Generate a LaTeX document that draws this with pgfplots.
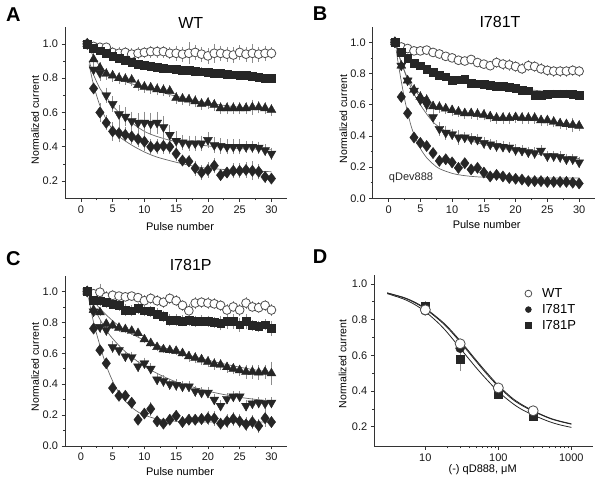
\documentclass[border=0pt]{standalone}
\usepackage{fontspec}
\setmainfont{Liberation Sans}
\usepackage{pgfplots}
\usepackage{pgfplotstable}
\pgfplotsset{compat=1.18}

\pgfplotstableread{
n c ce s se u ue d de k ke
1 1.000 0.01 1.000 0.01 1.000 0.01 1.000 0.01 1.000 0.01
2 0.985 0.01 0.975 0.01 0.910 0.02 0.850 0.02 0.740 0.02
3 0.980 0.01 0.960 0.01 0.860 0.02 0.830 0.03 0.600 0.04
4 0.980 0.01 0.945 0.01 0.825 0.02 0.700 0.03 0.540 0.03
5 0.950 0.02 0.930 0.01 0.815 0.02 0.650 0.03 0.490 0.04
6 0.945 0.02 0.915 0.01 0.800 0.02 0.590 0.04 0.480 0.04
7 0.950 0.02 0.905 0.01 0.795 0.02 0.575 0.04 0.470 0.03
8 0.940 0.02 0.895 0.01 0.790 0.02 0.550 0.04 0.460 0.03
9 0.945 0.02 0.880 0.01 0.760 0.02 0.540 0.04 0.445 0.03
10 0.950 0.02 0.875 0.01 0.750 0.02 0.540 0.05 0.430 0.04
11 0.955 0.02 0.870 0.01 0.745 0.02 0.535 0.05 0.400 0.03
12 0.955 0.02 0.865 0.01 0.735 0.02 0.540 0.05 0.400 0.03
13 0.955 0.02 0.860 0.01 0.730 0.02 0.515 0.05 0.405 0.03
14 0.945 0.02 0.855 0.01 0.725 0.02 0.470 0.04 0.400 0.03
15 0.945 0.03 0.850 0.01 0.685 0.02 0.435 0.04 0.360 0.03
16 0.940 0.03 0.848 0.01 0.680 0.02 0.425 0.03 0.320 0.02
17 0.945 0.05 0.845 0.01 0.675 0.02 0.420 0.03 0.315 0.02
18 0.950 0.03 0.840 0.01 0.665 0.02 0.420 0.03 0.275 0.03
19 0.940 0.03 0.838 0.01 0.650 0.02 0.420 0.03 0.250 0.03
20 0.930 0.03 0.835 0.01 0.655 0.02 0.440 0.03 0.265 0.03
21 0.945 0.04 0.830 0.01 0.645 0.02 0.410 0.03 0.290 0.03
22 0.945 0.03 0.828 0.01 0.625 0.02 0.405 0.03 0.235 0.02
23 0.940 0.03 0.825 0.01 0.625 0.02 0.400 0.03 0.250 0.02
24 0.935 0.03 0.820 0.01 0.625 0.02 0.400 0.03 0.260 0.03
25 0.950 0.03 0.818 0.01 0.625 0.02 0.400 0.03 0.260 0.03
26 0.940 0.03 0.815 0.01 0.625 0.02 0.400 0.02 0.265 0.03
27 0.945 0.04 0.810 0.01 0.630 0.03 0.400 0.02 0.260 0.04
28 0.940 0.03 0.805 0.01 0.630 0.02 0.395 0.02 0.255 0.03
29 0.945 0.03 0.800 0.01 0.625 0.02 0.380 0.02 0.225 0.02
30 0.945 0.02 0.800 0.01 0.615 0.02 0.360 0.02 0.215 0.01
}\tabA

\pgfplotstableread{
n c ce s se u ue d de k ke
1 1.000 0.01 1.000 0.01 1.000 0.01 1.000 0.01 1.000 0.01
2 0.970 0.01 0.935 0.01 0.850 0.01 0.850 0.01 0.650 0.01
3 0.960 0.01 0.900 0.01 0.755 0.02 0.755 0.02 0.545 0.01
4 0.945 0.01 0.865 0.01 0.695 0.02 0.690 0.02 0.390 0.01
5 0.945 0.01 0.850 0.01 0.650 0.02 0.630 0.02 0.355 0.01
6 0.950 0.01 0.825 0.01 0.630 0.02 0.600 0.03 0.335 0.01
7 0.935 0.01 0.810 0.01 0.590 0.02 0.520 0.03 0.290 0.01
8 0.925 0.01 0.790 0.01 0.585 0.02 0.445 0.03 0.240 0.01
9 0.910 0.01 0.780 0.01 0.575 0.02 0.420 0.03 0.250 0.01
10 0.900 0.01 0.755 0.01 0.565 0.02 0.410 0.02 0.230 0.01
11 0.885 0.01 0.760 0.01 0.555 0.02 0.390 0.03 0.195 0.01
12 0.880 0.01 0.765 0.01 0.545 0.02 0.390 0.02 0.225 0.01
13 0.890 0.01 0.740 0.01 0.545 0.02 0.380 0.02 0.185 0.01
14 0.870 0.01 0.735 0.01 0.540 0.02 0.375 0.02 0.195 0.01
15 0.860 0.01 0.730 0.01 0.535 0.02 0.355 0.02 0.165 0.01
16 0.850 0.01 0.725 0.01 0.525 0.02 0.345 0.02 0.140 0.01
17 0.870 0.02 0.720 0.01 0.515 0.02 0.335 0.02 0.150 0.01
18 0.860 0.02 0.720 0.01 0.515 0.02 0.330 0.02 0.140 0.01
19 0.855 0.02 0.710 0.01 0.515 0.02 0.325 0.02 0.130 0.01
20 0.845 0.02 0.705 0.01 0.520 0.02 0.310 0.02 0.125 0.01
21 0.830 0.02 0.695 0.01 0.515 0.02 0.305 0.02 0.120 0.01
22 0.850 0.02 0.690 0.01 0.515 0.02 0.295 0.02 0.110 0.01
23 0.845 0.02 0.660 0.01 0.515 0.02 0.290 0.02 0.110 0.01
24 0.830 0.02 0.660 0.01 0.500 0.02 0.305 0.02 0.110 0.01
25 0.820 0.02 0.665 0.01 0.500 0.02 0.270 0.02 0.105 0.01
26 0.815 0.02 0.670 0.01 0.490 0.02 0.270 0.02 0.105 0.01
27 0.815 0.02 0.670 0.01 0.480 0.02 0.265 0.02 0.105 0.01
28 0.815 0.02 0.670 0.01 0.475 0.02 0.250 0.02 0.105 0.01
29 0.820 0.02 0.665 0.01 0.470 0.03 0.250 0.02 0.100 0.01
30 0.815 0.02 0.660 0.01 0.465 0.02 0.230 0.02 0.095 0.01
}\tabB

\pgfplotstableread{
n c ce s se u ue d de k ke
1 1.000 0.01 1.000 0.01 1.000 0.01 1.000 0.01 1.000 0.01
2 0.985 0.01 0.945 0.02 0.880 0.01 0.870 0.02 0.760 0.01
3 0.995 0.04 0.940 0.02 0.865 0.01 0.770 0.02 0.620 0.01
4 0.965 0.02 0.930 0.02 0.790 0.01 0.750 0.02 0.535 0.02
5 0.975 0.02 0.920 0.02 0.780 0.01 0.640 0.02 0.375 0.01
6 0.970 0.01 0.910 0.02 0.765 0.01 0.620 0.02 0.325 0.01
7 0.965 0.01 0.880 0.02 0.755 0.01 0.580 0.02 0.325 0.01
8 0.970 0.01 0.875 0.02 0.745 0.01 0.575 0.02 0.280 0.01
9 0.960 0.01 0.890 0.02 0.730 0.01 0.515 0.02 0.170 0.01
10 0.940 0.02 0.875 0.02 0.690 0.01 0.535 0.02 0.210 0.02
11 0.955 0.02 0.870 0.02 0.665 0.01 0.500 0.02 0.240 0.03
12 0.940 0.02 0.855 0.02 0.640 0.01 0.430 0.02 0.160 0.02
13 0.930 0.02 0.840 0.02 0.625 0.01 0.420 0.02 0.145 0.02
14 0.955 0.02 0.815 0.02 0.620 0.01 0.400 0.02 0.170 0.02
15 0.940 0.02 0.815 0.02 0.615 0.01 0.395 0.02 0.195 0.02
16 0.910 0.02 0.810 0.02 0.600 0.01 0.385 0.02 0.155 0.02
17 0.875 0.03 0.815 0.02 0.580 0.02 0.385 0.02 0.170 0.02
18 0.925 0.02 0.805 0.02 0.570 0.02 0.355 0.02 0.170 0.02
19 0.930 0.02 0.810 0.02 0.560 0.02 0.345 0.02 0.175 0.02
20 0.925 0.02 0.805 0.02 0.545 0.02 0.345 0.02 0.180 0.03
21 0.920 0.02 0.800 0.02 0.530 0.02 0.300 0.02 0.178 0.03
22 0.910 0.02 0.795 0.03 0.525 0.02 0.260 0.02 0.145 0.02
23 0.880 0.02 0.805 0.03 0.510 0.02 0.305 0.02 0.160 0.03
24 0.900 0.02 0.805 0.03 0.500 0.02 0.320 0.02 0.175 0.03
25 0.880 0.02 0.785 0.03 0.490 0.02 0.320 0.02 0.160 0.03
26 0.925 0.02 0.805 0.03 0.480 0.03 0.260 0.02 0.140 0.03
27 0.900 0.02 0.780 0.02 0.480 0.03 0.275 0.02 0.155 0.03
28 0.895 0.02 0.775 0.02 0.475 0.03 0.280 0.02 0.130 0.03
29 0.910 0.02 0.785 0.02 0.480 0.03 0.275 0.02 0.180 0.04
30 0.880 0.02 0.760 0.03 0.470 0.06 0.280 0.02 0.155 0.02
}\tabC

\pgfplotstableread{
x w we t te p pe
10 0.855 0.01 0.850 0.01 0.878 0.01
30 0.665 0.01 0.640 0.01 0.576 0.05
100 0.418 0.01 0.410 0.01 0.385 0.01
300 0.290 0.01 0.285 0.01 0.258 0.01
}\tabD

\pgfplotsset{
  pan/.style={
    scale only axis,
    axis lines*=left,
    axis line style={black!80, line width=0.8pt},
    tick align=outside,
    major tick length=3.5pt,
    minor tick length=2pt,
    every tick/.style={black!80, line width=0.7pt},
    tick label style={font=\fontsize{11}{12}\selectfont, text=black!90},
    /pgf/number format/assume math mode=true,
    clip=false,
  },
  pulse/.style={pan, xmin=-2.5, xmax=32.5, xtick={0,5,...,30},
    minor x tick num=1, minor y tick num=1,
    yticklabel style={/pgf/number format/.cd, fixed, fixed zerofill, precision=1}},
  ce/.style={mark=*, mark size=4.4pt, mark options={fill=white, draw=black!70, line width=0.8pt}},
  sq/.style={mark=square*, mark size=3.9pt, mark options={fill=black!85, draw=black!85}},
  up/.style={mark=triangle*, mark size=5.2pt, mark options={fill=black!85, draw=black!85}},
  dn/.style={mark=triangle*, mark size=5.2pt, mark options={fill=black!85, draw=black!85, rotate=180}},
  dm/.style={mark=diamond*, mark size=5.6pt, mark options={fill=black!85, draw=black!85}},
  eb/.style={only marks, error bars/y dir=both, error bars/y explicit,
    error bars/error bar style={black!45, line width=0.6pt},
    error bars/error mark options={black!45, mark size=2.5pt, line width=0.6pt}},
  fitl/.style={black!60, line width=0.7pt, smooth, no marks},
  lgs/.style={legend image code/.code={\path (0pt,0pt) (20pt,0pt); \draw[##1, mark size=3pt] plot coordinates {(8.5pt,0pt)};}},
  lgc/.style={legend image code/.code={\path (0pt,0pt) (20pt,0pt); \draw[##1, mark size=3.4pt] plot coordinates {(8.5pt,0pt)};}},
}

\begin{document}
\begin{tikzpicture}
\path[use as bounding box] (0pt,0pt) rectangle (600pt,484pt);

% ---------- A ----------
\begin{axis}[pulse, at={(65pt,285.7pt)}, anchor=south west, width=222.3pt, height=171.6pt,
  ymin=0.1, ymax=1.1, ytick={0.2,0.4,...,1.0}]
\addplot[fitl] coordinates {(1,1.0)(2,0.975)(3,0.955)(5,0.925)(7,0.9)(10,0.875)(15,0.85)(20,0.835)(25,0.818)(30,0.80)};
\addplot[fitl] coordinates {(1,1.0)(2,0.925)(3,0.87)(4,0.835)(5,0.81)(7,0.78)(10,0.745)(15,0.695)(20,0.655)(25,0.63)(30,0.61)};
\addplot[fitl] coordinates {(1.3,0.9)(2,0.82)(3,0.74)(4,0.69)(5,0.64)(6,0.6)(8,0.54)(10,0.49)(12,0.46)(15,0.43)(20,0.405)(25,0.39)(30,0.385)};
\addplot[fitl] coordinates {(1.3,0.88)(2,0.76)(3,0.64)(4,0.56)(5,0.5)(6,0.46)(8,0.41)(10,0.37)(12,0.34)(15,0.31)(18,0.285)(20,0.275)(25,0.262)(30,0.255)};
\addplot[ce, eb] table[x=n, y=c, y error=ce] {\tabA};
\addplot[sq, eb] table[x=n, y=s, y error=se] {\tabA};
\addplot[up, eb] table[x=n, y=u, y error=ue] {\tabA};
\addplot[dn, eb] table[x=n, y=d, y error=de] {\tabA};
\addplot[dm, eb] table[x=n, y=k, y error=ke] {\tabA};
\end{axis}

% ---------- B ----------
\begin{axis}[pulse, at={(372.7pt,285.7pt)}, anchor=south west, width=222.3pt, height=171.6pt,
  ymin=0, ymax=1.1, ytick={0,0.2,...,1.0}]
\addplot[fitl] coordinates {(1.2,0.99)(2,0.95)(3,0.91)(5,0.855)(7,0.815)(10,0.775)(15,0.735)(20,0.705)(25,0.685)(30,0.67)};
\addplot[fitl] coordinates {(1.2,0.98)(2,0.87)(3,0.77)(4,0.7)(5,0.65)(6,0.615)(7,0.59)(8,0.575)(10,0.555)(15,0.53)(20,0.51)(25,0.49)(30,0.47)};
\addplot[fitl] coordinates {(1.2,0.97)(2,0.87)(3,0.76)(4,0.67)(5,0.6)(6,0.54)(7,0.49)(8,0.455)(10,0.41)(12,0.38)(15,0.345)(20,0.305)(25,0.275)(30,0.255)};
\addplot[fitl] coordinates {(1.2,0.95)(1.5,0.87)(2,0.75)(2.5,0.64)(3,0.55)(3.5,0.47)(4,0.41)(5,0.32)(6,0.26)(7,0.22)(8,0.19)(10,0.16)(12,0.145)(15,0.135)(20,0.13)(30,0.13)};
\addplot[ce, eb] table[x=n, y=c, y error=ce] {\tabB};
\addplot[sq, eb] table[x=n, y=s, y error=se] {\tabB};
\addplot[up, eb] table[x=n, y=u, y error=ue] {\tabB};
\addplot[dn, eb] table[x=n, y=d, y error=de] {\tabB};
\addplot[dm, eb] table[x=n, y=k, y error=ke] {\tabB};
\end{axis}

% ---------- C ----------
\begin{axis}[pulse, at={(65pt,38pt)}, anchor=south west, width=222.3pt, height=170pt,
  ymin=0, ymax=1.1, ytick={0,0.2,...,1.0}]
\addplot[fitl] coordinates {(1.2,0.99)(2,0.97)(3,0.95)(5,0.925)(7,0.9)(10,0.87)(15,0.83)(20,0.8)(25,0.785)(30,0.77)};
\addplot[fitl] coordinates {(1.2,0.99)(2,0.94)(3,0.89)(5,0.81)(7,0.75)(10,0.685)(15,0.61)(20,0.555)(25,0.51)(30,0.475)};
\addplot[fitl] coordinates {(1.2,0.98)(2,0.9)(3,0.82)(4,0.75)(5,0.695)(7,0.61)(10,0.515)(12,0.47)(15,0.415)(20,0.355)(25,0.315)(30,0.29)};
\addplot[fitl] coordinates {(1.2,0.96)(2,0.8)(3,0.65)(4,0.52)(5,0.42)(6,0.345)(7,0.29)(8,0.25)(9,0.22)(10,0.2)(12,0.175)(15,0.16)(20,0.155)(30,0.155)};
\addplot[ce, eb] table[x=n, y=c, y error=ce] {\tabC};
\addplot[sq, eb] table[x=n, y=s, y error=se] {\tabC};
\addplot[up, eb] table[x=n, y=u, y error=ue] {\tabC};
\addplot[dn, eb] table[x=n, y=d, y error=de] {\tabC};
\addplot[dm, eb] table[x=n, y=k, y error=ke] {\tabC};
\end{axis}

% ---------- D ----------
\begin{axis}[pan, xmode=log, at={(374.3pt,37.5pt)}, anchor=south west, width=219pt, height=171.5pt,
  xmin=2, xmax=2000, ymin=0.09, ymax=1.05,
  xtick={10,100,1000}, log ticks with fixed point,
  xticklabel style={/pgf/number format/1000 sep={}},
  ytick={0.2,0.4,...,1.0}, minor y tick num=1,
  yticklabel style={/pgf/number format/.cd, fixed, fixed zerofill, precision=1},
  legend style={at={(axis description cs:0.663,0.935)}, anchor=north west, draw=none, fill=none,
    font=\fontsize{13}{14}\selectfont, row sep=1.5pt, inner sep=0pt},
  legend cell align=left]
\addplot[fitl, forget plot, black!85, line width=0.8pt] coordinates {(3,0.95)(5,0.925)(7,0.9)(10,0.864)(15,0.808)(20,0.762)(30,0.682)(50,0.572)(70,0.502)(100,0.432)(150,0.366)(200,0.33)(300,0.29)(500,0.25)(700,0.232)(1000,0.217)};
\addplot[fitl, forget plot, black!85, line width=0.8pt] coordinates {(3,0.949)(5,0.923)(7,0.897)(10,0.86)(15,0.803)(20,0.756)(30,0.675)(50,0.565)(70,0.494)(100,0.426)(150,0.36)(200,0.325)(300,0.287)(500,0.248)(700,0.23)(1000,0.215)};
\addplot[fitl, forget plot, black!85, line width=0.8pt] coordinates {(3,0.946)(5,0.916)(7,0.887)(10,0.845)(15,0.782)(20,0.728)(30,0.64)(50,0.53)(70,0.463)(100,0.397)(150,0.337)(200,0.302)(300,0.266)(500,0.229)(700,0.211)(1000,0.197)};
\addplot[sq, eb, mark size=4pt, forget plot] table[x=x, y=p, y error=pe] {\tabD};
\addplot[eb, mark=*, mark size=4.5pt, mark options={fill=black!85, draw=black!85}, forget plot] table[x=x, y=t, y error=te] {\tabD};
\addplot[ce, eb, mark size=5pt, forget plot] table[x=x, y=w, y error=we] {\tabD};
\addlegendimage{ce, only marks, lgc}
\addlegendentry{WT}
\addlegendimage{only marks, mark=*, mark options={fill=black!85, draw=black!85}, lgs}
\addlegendentry{I781T}
\addlegendimage{sq, only marks, lgs}
\addlegendentry{I781P}
\end{axis}

% ---------- texts ----------
\begin{scope}[every node/.style={inner sep=0pt}]
\node[font=\fontsize{20}{22}\selectfont\bfseries] at (13.3pt,469pt) {A};
\node[font=\fontsize{20}{22}\selectfont\bfseries] at (320pt,470pt) {B};
\node[font=\fontsize{20}{22}\selectfont\bfseries] at (13.3pt,225.7pt) {C};
\node[font=\fontsize{20}{22}\selectfont\bfseries] at (320pt,227.3pt) {D};
\node[font=\fontsize{16}{18}\selectfont] at (190.7pt,460.7pt) {WT};
\node[font=\fontsize{16}{18}\selectfont] at (500pt,462.3pt) {I781T};
\node[font=\fontsize{16}{18}\selectfont] at (190.7pt,219pt) {I781P};
\node[font=\fontsize{11}{12}\selectfont, text=black!85] at (411pt,305.7pt) {qDev888};
\node[font=\fontsize{10.5}{12}\selectfont, rotate=90] at (35pt,364pt) {Normalized current};
\node[font=\fontsize{10.5}{12}\selectfont, rotate=90] at (343.3pt,365pt) {Normalized current};
\node[font=\fontsize{10.5}{12}\selectfont, rotate=90] at (35pt,117pt) {Normalized current};
\node[font=\fontsize{10.5}{12}\selectfont, rotate=90] at (342.7pt,120pt) {Normalized current};
\node[font=\fontsize{11}{12}\selectfont] at (180pt,257.3pt) {Pulse number};
\node[font=\fontsize{11}{12}\selectfont] at (486.7pt,259pt) {Pulse number};
\node[font=\fontsize{11}{12}\selectfont] at (180pt,12.3pt) {Pulse number};
\node[font=\fontsize{11}{12}\selectfont] at (482.7pt,14.7pt) {(-) qD888, μM};
\end{scope}
\end{tikzpicture}
\end{document}
